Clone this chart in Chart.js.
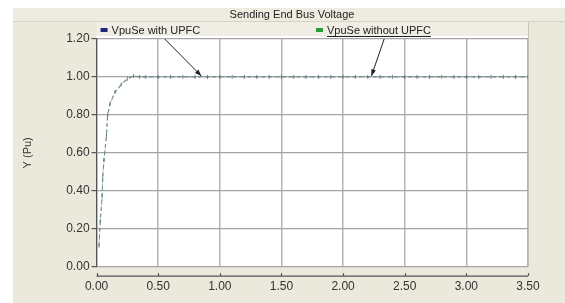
<!DOCTYPE html>
<html>
<head>
<meta charset="utf-8">
<script src="https://cdn.jsdelivr.net/npm/chart.js@4/dist/chart.umd.min.js"></script>
<style>
  body { margin: 0; background: #fff; }
  #wrap { width: 565px; height: 303px; }
</style>
</head>
<body>
<div id="wrap"><canvas id="Voltage" width="565" height="303"></canvas></div>
<script>
// time (s) and per-unit voltage
var time = [0.02, 0.03, 0.045, 0.05, 0.06, 0.08, 0.09, 0.11, 0.15, 0.2, 0.25, 0.3, 0.35,
  0.4, 0.5, 0.6, 0.7, 0.8, 0.9, 1.0, 1.1, 1.2, 1.3, 1.4, 1.5, 1.6, 1.7, 1.8, 1.9, 2.0,
  2.1, 2.2, 2.3, 2.4, 2.5, 2.6, 2.7, 2.8, 2.9, 3.0, 3.1, 3.2, 3.3, 3.4, 3.5];
var withUpfc = [0.11, 0.24, 0.37, 0.47, 0.56, 0.69, 0.80, 0.86, 0.92, 0.96, 0.99, 1.005, 1.0,
  1.0, 1.0, 1.0, 1.0, 1.0, 1.0, 1.0, 1.0, 1.0, 1.0, 1.0, 1.0, 1.0, 1.0, 1.0, 1.0, 1.0,
  1.0, 1.0, 1.0, 1.0, 1.0, 1.0, 1.0, 1.0, 1.0, 1.0, 1.0, 1.0, 1.0, 1.0, 1.0];
var withoutUpfc = [0.11, 0.24, 0.37, 0.47, 0.56, 0.69, 0.80, 0.86, 0.92, 0.96, 0.99, 1.005, 1.0,
  1.0, 1.0, 1.0, 1.0, 1.0, 1.0, 1.0, 1.0, 1.0, 1.0, 1.0, 1.0, 1.0, 1.0, 1.0, 1.0, 1.0,
  1.0, 1.0, 1.0, 1.0, 1.0, 1.0, 1.0, 1.0, 1.0, 1.0, 1.0, 1.0, 1.0, 1.0, 1.0];
var seriesNames = ['VpuSe with UPFC', 'VpuSe without UPFC'];
var legendColors = ['#23237a', '#2f9a3a'];
// where the arrows from the legend point to (x, y in data units)
var arrowTips = [[0.85, 1.0], [2.23, 1.0]];

function points(ys) {
  return time.map(function (t, i) { return { x: t, y: ys[i] }; });
}

var font = "'Liberation Sans', Arial, sans-serif";

var frame = {
  id: 'frame',
  beforeDraw: function (chart) {
    var c = chart.ctx, a = chart.chartArea;
    c.save();
    c.fillStyle = '#ffffff';
    c.fillRect(0, 0, chart.width, chart.height);
    c.fillStyle = '#ebe8dc';
    c.fillRect(13, 8, chart.width - 13, chart.height - 8);
    // title band
    c.fillStyle = '#eeebe1';
    c.fillRect(13, 8, chart.width - 13, 13);
    c.strokeStyle = '#d6d2c4';
    c.lineWidth = 1;
    c.beginPath(); c.moveTo(13, 21.5); c.lineTo(chart.width, 21.5); c.stroke();
    // legend band
    c.fillStyle = '#efede4';
    c.fillRect(a.left, 22, a.right - a.left, a.top - 22);
    c.strokeStyle = '#c9c5b6';
    c.beginPath(); c.moveTo(a.right + 0.5, 22); c.lineTo(a.right + 0.5, a.bottom); c.stroke();
    // plot area
    c.fillStyle = '#ffffff';
    c.fillRect(a.left, a.top - 3, a.right - a.left, a.bottom - a.top + 3);
    c.restore();
  },
  afterDraw: function (chart) {
    var c = chart.ctx, a = chart.chartArea;
    var xs = chart.scales.x, ys = chart.scales.y;
    c.save();
    // title
    c.fillStyle = '#222';
    c.font = '11px ' + font;
    c.textAlign = 'center';
    c.textBaseline = 'middle';
    c.fillText('Sending End Bus Voltage', 292, 14.5);
    // detached x axis line
    var yl = a.bottom + 9.5;
    c.strokeStyle = '#555';
    c.lineWidth = 1.2;
    c.beginPath(); c.moveTo(a.left, yl); c.lineTo(a.right, yl); c.stroke();
    xs.ticks.forEach(function (t) {
      var px = Math.round(xs.getPixelForValue(t.value)) + 0.5;
      c.beginPath(); c.moveTo(px, yl); c.lineTo(px, yl - 3); c.stroke();
    });
    // legend
    var starts = [a.left + 4, 316];
    var frac = [0.6, 0.55];
    c.textAlign = 'left';
    c.font = '11px ' + font;
    var from = [];
    seriesNames.forEach(function (name, i) {
      var x0 = starts[i];
      c.fillStyle = legendColors[i];
      c.fillRect(x0, 28, 7, 4);
      c.fillStyle = '#222';
      c.fillText(name, x0 + 11, 30.5);
      var w = c.measureText(name).width;
      if (i === 1) {
        c.strokeStyle = '#222';
        c.lineWidth = 1;
        c.beginPath(); c.moveTo(x0 + 11, 36.5); c.lineTo(x0 + 11 + w, 36.5); c.stroke();
      }
      from.push(x0 + 11 + w * frac[i]);
    });
    // arrows
    c.strokeStyle = '#222';
    c.fillStyle = '#222';
    c.lineWidth = 1;
    arrowTips.forEach(function (tip, i) {
      var x1 = from[i], y1 = 39;
      var x2 = xs.getPixelForValue(tip[0]), y2 = ys.getPixelForValue(tip[1]) - 1;
      c.beginPath(); c.moveTo(x1, y1); c.lineTo(x2, y2); c.stroke();
      var ang = Math.atan2(y2 - y1, x2 - x1);
      c.beginPath();
      c.moveTo(x2, y2);
      c.lineTo(x2 - 7 * Math.cos(ang - 0.35), y2 - 7 * Math.sin(ang - 0.35));
      c.lineTo(x2 - 7 * Math.cos(ang + 0.35), y2 - 7 * Math.sin(ang + 0.35));
      c.closePath(); c.fill();
    });
    c.restore();
  }
};

var ctx = document.getElementById('Voltage').getContext('2d');
var chart = new Chart(ctx, {
  type: 'scatter',
  data: {
    datasets: [{
      label: seriesNames[0],
      data: points(withUpfc),
      showLine: true,
      borderColor: 'rgba(90,115,130,0.8)',
      borderWidth: 1.1,
      borderDash: [4, 3],
      pointStyle: 'line',
      rotation: 90,
      pointRadius: 2,
      pointBorderColor: 'rgba(80,105,120,0.8)',
      pointBorderWidth: 1
    }, {
      label: seriesNames[1],
      data: points(withoutUpfc),
      showLine: true,
      borderColor: 'rgba(80,160,140,0.55)',
      borderWidth: 1.1,
      borderDash: [2, 3],
      pointRadius: 0
    }]
  },
  options: {
    responsive: false,
    animation: false,
    layout: { padding: { top: 39, right: 37, bottom: 5, left: 21 } },
    plugins: {
      legend: { display: false },
      title: { display: false },
      tooltip: { enabled: false }
    },
    scales: {
      x: {
        type: 'linear',
        min: 0, max: 3.5,
        border: { display: false },
        grid: { color: '#b4b4b4', lineWidth: 1.5, tickLength: 9, tickColor: 'rgba(0,0,0,0)' },
        ticks: {
          stepSize: 0.5, padding: 4, color: '#333',
          font: { family: font, size: 12 },
          callback: function (v) { return v.toFixed(2); }
        }
      },
      y: {
        min: 0, max: 1.2,
        border: { display: true, color: '#555', width: 1.2 },
        grid: { color: '#a4a4a4', lineWidth: 1.2, tickLength: 5, tickColor: '#555' },
        ticks: {
          stepSize: 0.2, padding: 2, color: '#333',
          font: { family: font, size: 12 },
          callback: function (v) { return v.toFixed(2); }
        },
        title: { display: true, text: 'Y (Pu)', color: '#333', font: { family: font, size: 11 }, padding: { top: 0, bottom: 30 } }
      }
    }
  },
  plugins: [frame]
});
</script>
</body>
</html>
